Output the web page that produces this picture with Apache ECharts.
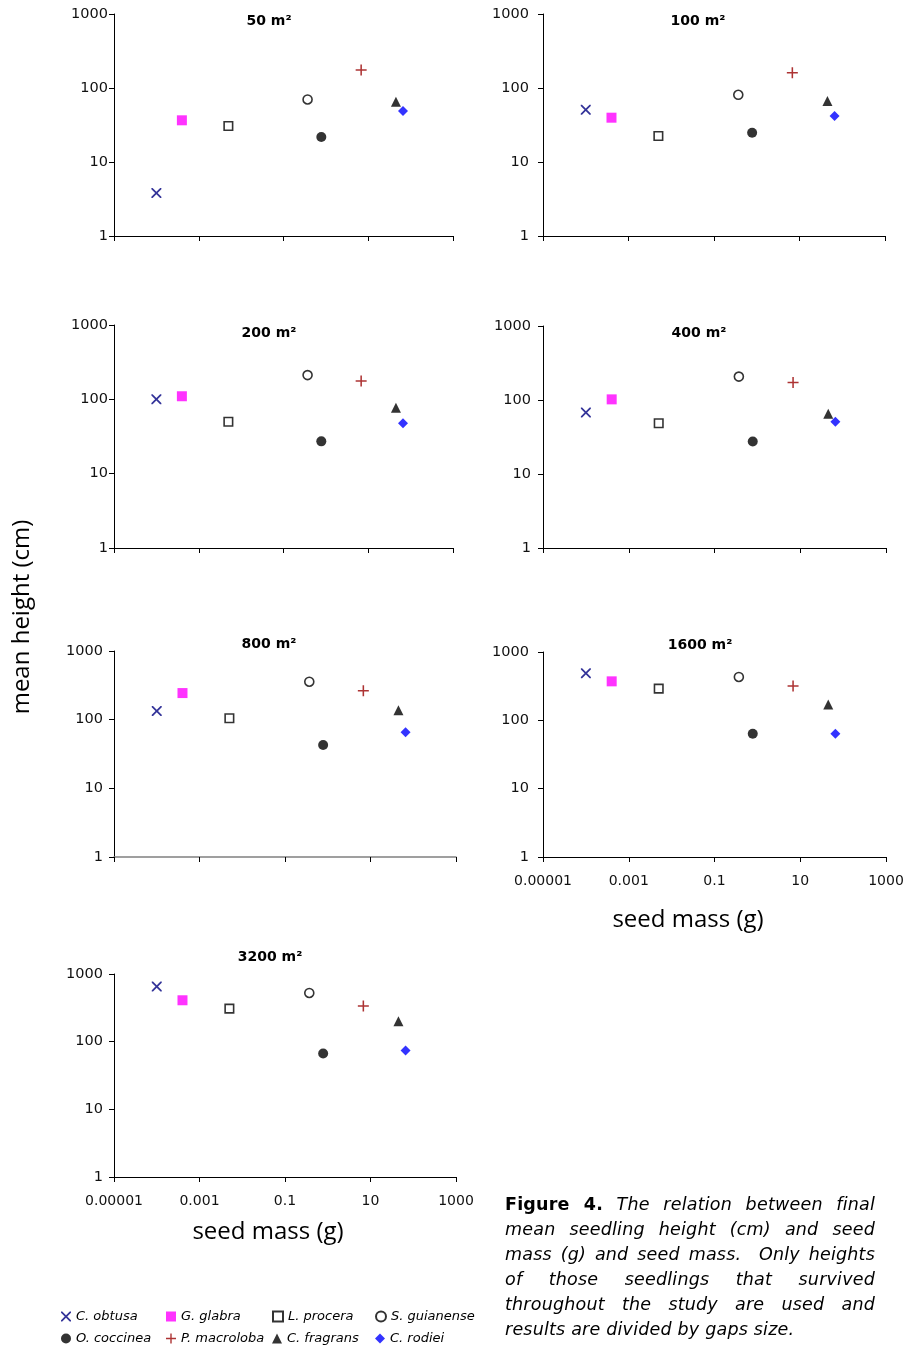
<!DOCTYPE html>
<html><head><meta charset="utf-8">
<script src="https://cdn.jsdelivr.net/npm/echarts@6/dist/echarts.min.js"></script>
<style>
html,body{margin:0;padding:0;background:#fff;}
#chart{position:absolute;left:0;top:0;width:907px;height:1350px;}
#caption{position:absolute;left:505px;top:1192px;width:370px;font-family:'DejaVu Sans';font-size:17.5px;line-height:25px;color:#000;font-style:italic;letter-spacing:0.2px;}
#caption div{text-align:justify;text-align-last:justify;white-space:nowrap;}
#caption div.last{text-align-last:left;}
#caption b{font-style:normal;}
</style></head><body>
<div id="chart"></div>
<div id="caption">
<div><b>Figure 4.</b> The relation between final</div>
<div>mean seedling height (cm) and seed</div>
<div>mass (g) and seed mass.&nbsp; Only heights</div>
<div>of those seedlings that survived</div>
<div>throughout the study are used and</div>
<div class="last">results are divided by gaps size.</div>
</div>
<script>
// ---- data ----
const species = ['C. obtusa','G. glabra','L. procera','S. guianense','O. coccinea','P. macroloba','C. fragrans','C. rodiei'];
const seedMass = [0.0001, 0.0004, 0.005, 0.37, 0.78, 6.8, 45, 66];
const gapSizes = ['50 m²','100 m²','200 m²','400 m²','800 m²','1600 m²','3200 m²'];
const height50   = [3.8, 36.6, 30.6, 70, 21.8, 175, 65, 49];
const height100  = [51, 39.7, 22.5, 81, 24.9, 161, 66.7, 41.9];
const height200  = [100, 110, 50, 212, 27.2, 176, 77, 47.5];
const height400  = [68, 102, 48.6, 207, 27.5, 172, 65, 50.7];
const height800  = [134, 244, 105, 357, 42.8, 264, 137, 65.4];
const height1600 = [487, 372, 291, 431, 63.8, 318, 171, 63.8];
const height3200 = [651, 409, 308, 525, 66.8, 337, 200, 74];
const xTickLabels = ['0.00001','0.001','0.1','10','1000'];
const yTickLabels = ['1','10','100','1000'];

const heights = [height50, height100, height200, height400, height800, height1600, height3200];

// ---- layout ----
const panels = [
  {left:114, top:14,  width:339, height:222, title:[269,21],  xl:false, ym:6},
  {left:543, top:14,  width:342, height:222, title:[698,21],  xl:false, ym:14},
  {left:114, top:325, width:339, height:223, title:[269,333], xl:false, ym:6},
  {left:543, top:326, width:343, height:222, title:[699,333], xl:false, ym:12},
  {left:114, top:651, width:342, height:206, title:[269,644], xl:false, ym:11},
  {left:543, top:652, width:343, height:205, title:[700,645], xl:true,  ym:14},
  {left:114, top:974, width:342, height:203, title:[270,957], xl:true,  ym:11}
];

const X_PATH = 'path://M0,0L2.5,0L10,7.5L17.5,0L20,0L20,2.5L12.5,10L20,17.5L20,20L17.5,20L10,12.5L2.5,20L0,20L0,17.5L7.5,10L0,2.5Z';
const PLUS_PATH = 'path://M8.6,0L11.4,0L11.4,8.6L20,8.6L20,11.4L11.4,11.4L11.4,20L8.6,20L8.6,11.4L0,11.4L0,8.6L8.6,8.6Z';
const styles = [
  {symbol:X_PATH, size:10, itemStyle:{color:'#000080'}},
  {symbol:'rect', size:10, itemStyle:{color:'#FF00FF'}},
  {symbol:'rect', size:8.5, itemStyle:{color:'#fff', borderColor:'#000', borderWidth:1.6}},
  {symbol:'circle', size:9, itemStyle:{color:'#fff', borderColor:'#000', borderWidth:1.6}},
  {symbol:'circle', size:10, itemStyle:{color:'#000'}},
  {symbol:PLUS_PATH, size:11, itemStyle:{color:'#990000'}},
  {symbol:'triangle', size:10, itemStyle:{color:'#000'}},
  {symbol:'diamond', size:10, itemStyle:{color:'#0000FF'}}
];

const FONT = 'DejaVu Sans';
function matchLabel(list, v) {
  const lv = Math.log10(v);
  const s = list.find(t => Math.abs(Math.log10(Number(t)) - lv) < 1e-6);
  return s || '';
}

const grid = [], xAxis = [], yAxis = [], series = [], graphic = [];
panels.forEach((p, i) => {
  grid.push({left:p.left, top:p.top, width:p.width, height:p.height, containLabel:false});
  xAxis.push({
    type:'log', logBase:10, gridIndex:i, min:0.00001, max:1000, interval:2,
    axisLine:{show:true, onZero:false, lineStyle:{color: i===4 ? '#808080' : '#000', width: i===4 ? 1.5 : 1}},
    axisTick:{show:true, inside:false, length:5, lineStyle:{color:'#000'}},
    splitLine:{show:false}, minorTick:{show:false},
    axisLabel:{show:p.xl, margin:17, fontFamily:FONT, fontSize:14, color:'#111',
      formatter: v => matchLabel(xTickLabels, v)}
  });
  yAxis.push({
    type:'log', logBase:10, gridIndex:i, min:1, max:1000, interval:1,
    axisLine:{show:true, onZero:false, lineStyle:{color:'#000'}},
    axisTick:{show:true, inside:false, length:5, lineStyle:{color:'#000'}},
    splitLine:{show:false}, minorTick:{show:false},
    axisLabel:{show:true, margin:p.ym, fontFamily:FONT, fontSize:14.5, color:'#111',
      formatter: v => matchLabel(yTickLabels, v)}
  });
  species.forEach((name, s) => {
    series.push({
      type:'scatter', name, xAxisIndex:i, yAxisIndex:i,
      symbol:styles[s].symbol, symbolSize:styles[s].size,
      itemStyle:styles[s].itemStyle,
      data:[[seedMass[s], heights[i][s]]],
      silent:true, animation:false
    });
  });
  graphic.push({type:'text', x:p.title[0], y:p.title[1],
    style:{text:gapSizes[i], font:'bold 14px "DejaVu Sans"', fill:'#000', align:'center', verticalAlign:'middle'}});
});

graphic.push({type:'text', x:22, y:617, rotation:Math.PI/2,
  style:{text:'mean height (cm)', font:'24px "Open Sans"', fill:'#000', align:'center', verticalAlign:'middle'}});
graphic.push({type:'text', x:688, y:920,
  style:{text:'seed mass (g)', font:'24px "Open Sans"', fill:'#000', align:'center', verticalAlign:'middle'}});
graphic.push({type:'text', x:268, y:1232,
  style:{text:'seed mass (g)', font:'24px "Open Sans"', fill:'#000', align:'center', verticalAlign:'middle'}});

// legend: 4 columns x 2 rows
const legendCols = [61, 166, 272, 375];
const legendRows = [1316, 1338];
const legend = species.map((name, s) => ({
  left: legendCols[s % 4], top: legendRows[Math.floor(s / 4)] - 6,
  data:[name], itemWidth:10, itemHeight:10, itemGap:0, padding:0, selectedMode:false,
  textStyle:{fontFamily:FONT, fontStyle:'italic', fontSize:13, color:'#000'}
}));

const chart = echarts.init(document.getElementById('chart'), null, {renderer:'canvas'});
chart.setOption({
  animation:false,
  backgroundColor:'#fff',
  grid, xAxis, yAxis, series, legend, graphic
});
</script>
</body></html>
